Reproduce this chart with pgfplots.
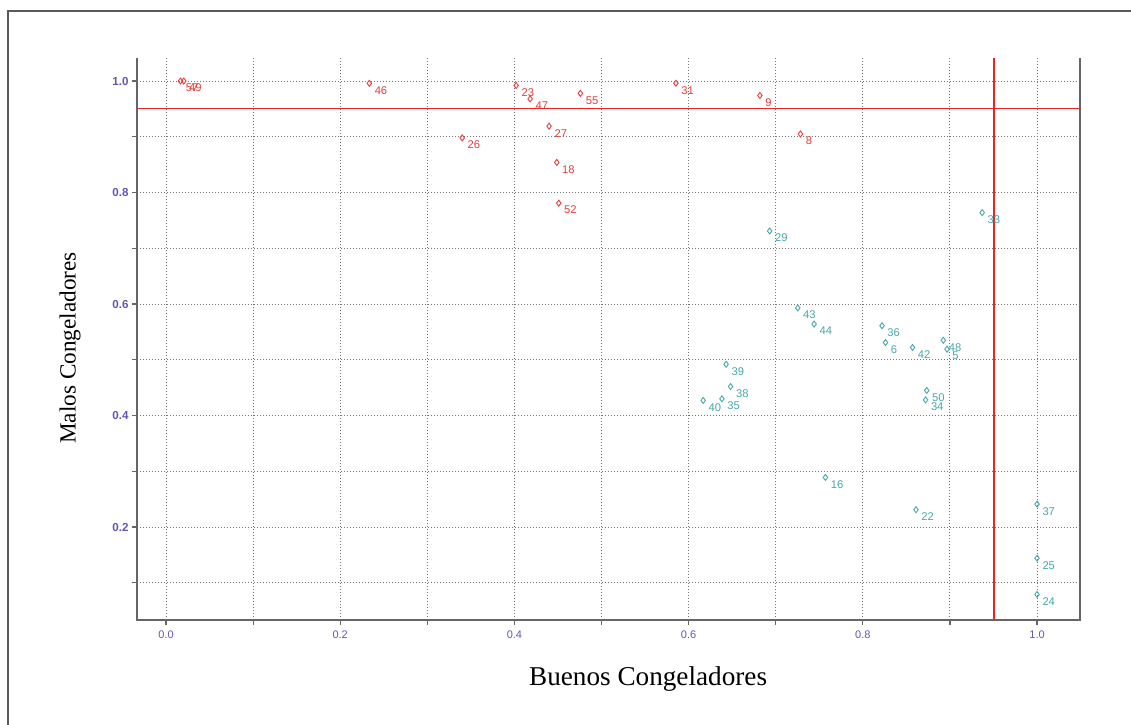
\documentclass[border=0pt]{standalone}
\usepackage{pgfplots}
\pgfplotsset{compat=1.18}
\usepackage{fontspec}
\setmainfont{Liberation Serif}
\newfontfamily\lsans{Liberation Sans}
\definecolor{ptred}{RGB}{232,60,60}
\definecolor{ptteal}{RGB}{70,168,170}
\definecolor{lnred}{RGB}{235,35,35}
\definecolor{tickpurple}{RGB}{100,84,180}
\definecolor{framegray}{RGB}{90,90,90}
\begin{document}
\begin{tikzpicture}
\path[use as bounding box] (0,0) rectangle (565.5pt,362pt);
\draw[framegray, line width=1pt] (4pt,-2pt) -- (4pt,356.5pt) -- (567pt,356.5pt);
\begin{axis}[
  at={(68.5pt,52pt)}, anchor=south west,
  scale only axis, width=471.5pt, height=281pt,
  xmin=-0.0333, xmax=1.0493, ymin=0.0332, ymax=1.0413,
  axis line style={draw=none},
  xtick={0,0.2,0.4,0.6,0.8,1.0},
  ytick={0.2,0.4,0.6,0.8,1.0},
  minor xtick={0.1,0.3,0.5,0.7,0.9},
  minor ytick={0.1,0.3,0.5,0.7,0.9},
  grid=both,
  major grid style={black!55, line width=0.5pt, dash pattern=on 0.5pt off 1pt},
  minor grid style={black!55, line width=0.5pt, dash pattern=on 0.5pt off 1pt},
  tick pos=left, tick align=outside,
  major tick length=2.5pt, minor tick length=2.5pt,
  every tick/.style={black!60, line width=0.6pt},
  /pgf/number format/assume math mode=true,
  /pgf/number format/fixed, /pgf/number format/fixed zerofill, /pgf/number format/precision=1,
  xticklabel style={font=\lsans\fontsize{5.5}{6}\selectfont, text=tickpurple, inner sep=0pt, anchor=north, yshift=-2.5pt},
  yticklabel style={font=\lsans\bfseries\fontsize{5.8}{6}\selectfont, text=tickpurple, inner sep=0pt, anchor=east, xshift=-1.5pt},
  xlabel={Buenos Congeladores},
  ylabel={Malos Congeladores},
  xlabel style={font=\fontsize{13.6}{16}\selectfont, at={(axis description cs:0.542,-0.105)}, anchor=center},
  ylabel style={font=\fontsize{11.6}{14}\selectfont, at={(axis description cs:-0.071,0.484)}, anchor=center, rotate=0},
  every node near coord/.append style={anchor=west, inner sep=0pt, xshift=2.5pt, yshift=-3.5pt, font=\lsans\fontsize{5.6}{6}\selectfont},
  clip=false,
]
\draw[black!60, line width=1pt] (rel axis cs:0,1) -- (rel axis cs:0,0) -- (rel axis cs:1,0) -- (rel axis cs:1,1);
\addplot[lnred, mark=none, line width=0.6pt] coordinates {(-0.0333,0.95) (1.0493,0.95)};
\addplot[lnred, mark=none, line width=0.6pt] coordinates {(0.9505,1.0413) (0.9505,0.0332)};
\addplot[only marks, mark=diamond, mark size=1.5pt, mark options={draw=ptred, line width=0.45pt, fill=none},
  nodes near coords, point meta=explicit symbolic,
  every node near coord/.append style={text=ptred}] table[meta=label] {
x y label
0.0166 1.000 57
0.0204 1.000 49
0.2334 0.996 46
0.4020 0.992 23
0.4180 0.968 47
0.4757 0.978 55
0.5854 0.996 31
0.6818 0.974 9
0.4398 0.919 27
0.3400 0.898 26
0.7283 0.905 8
0.4486 0.854 18
0.4509 0.781 52
};
\addplot[only marks, mark=diamond, mark size=1.5pt, mark options={draw=ptteal, line width=0.45pt, fill=none},
  nodes near coords, point meta=explicit symbolic,
  every node near coord/.append style={text=ptteal}] table[meta=label] {
x y label
0.693 0.731 29
0.937 0.764 33
0.7253 0.593 43
0.744 0.564 44
0.822 0.561 36
0.826 0.531 6
0.857 0.522 42
0.8924 0.535 48
0.8966 0.519 5
0.643 0.492 39
0.6482 0.452 38
0.6382 0.430 35
0.6167 0.427 40
0.8733 0.445 50
0.872 0.428 34
0.757 0.289 16
0.861 0.231 22
1.000 0.241 37
1.000 0.144 25
1.000 0.079 24
};
\end{axis}
\end{tikzpicture}
\end{document}
